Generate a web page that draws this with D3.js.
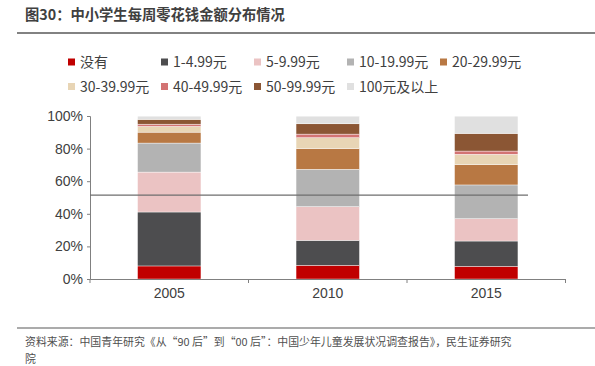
<!DOCTYPE html>
<html><head><meta charset="utf-8">
<script src="https://cdn.jsdelivr.net/npm/d3@7/dist/d3.min.js"></script>
<style>
html,body{margin:0;padding:0;background:#fff;}
svg{display:block;font-family:"Microsoft YaHei","Noto Sans CJK SC","Noto Sans",sans-serif;}
</style></head>
<body><svg id="c" width="595" height="366"></svg>
<script>
const years = ["2005", "2010", "2015"];
const seriesNames = ["没有", "1-4.99元", "5-9.99元", "10-19.99元", "20-29.99元", "30-39.99元", "40-49.99元", "50-99.99元", "100元及以上"];
const seriesColors = ["#C00000", "#4D4D4F", "#EBC3C3", "#B3B3B3", "#B87843", "#E8D5B5", "#D37373", "#8B5634", "#E0E0E0"];
// values in %, per series, for 2005, 2010, 2015
const v_none   = [8.0, 8.4, 7.8];
const v_1_5    = [33.1, 15.3, 15.5];
const v_5_10   = [24.5, 20.7, 13.7];
const v_10_20  = [17.8, 22.9, 20.7];
const v_20_30  = [6.7, 12.7, 12.5];
const v_30_40  = [3.5, 6.7, 6.3];
const v_40_50  = [1.4, 2.2, 2.0];
const v_50_100 = [2.9, 6.3, 10.8];
const v_100p   = [2.0, 4.7, 10.6];
const yTicks = [0, 20, 40, 60, 80, 100];
const refLineValue = 51.5;
const title = "图30：中小学生每周零花钱金额分布情况";
const sourceLines = ["资料来源：中国青年研究《从“90 后”到“00 后”：中国少年儿童发展状况调查报告》，民生证券研究", "院"];

const seriesVals = [v_none, v_1_5, v_5_10, v_10_20, v_20_30, v_30_40, v_40_50, v_50_100, v_100p];
const table = years.map((y, i) => {
  const o = {year: y};
  seriesNames.forEach((s, k) => o[s] = seriesVals[k][i]);
  return o;
});

const svg = d3.select("#c");
const textColor = "#404040";

// title
svg.append("text").attr("x", 25).attr("y", 20).attr("font-size", 14.3).attr("font-weight", "bold")
  .attr("fill", "#404040").text(title);
svg.append("line").attr("x1", 17).attr("x2", 595).attr("y1", 33).attr("y2", 33)
  .attr("stroke", "#595959").attr("stroke-width", 1.5);

// scales
const x = d3.scaleBand().domain(years).range([90, 565.5]).paddingInner(0.6).paddingOuter(0.3);
const y = d3.scaleLinear().domain([0, 100]).range([279, 116]);

const stack = d3.stack().keys(seriesNames);
const stacked = stack(table);

const g = svg.append("g");
stacked.forEach((layer, k) => {
  g.selectAll(null).data(layer).enter().append("rect")
    .attr("x", d => x(d.data.year))
    .attr("width", x.bandwidth())
    .attr("y", d => y(d[1]))
    .attr("height", d => y(d[0]) - y(d[1]))
    .attr("fill", seriesColors[k])
    .attr("stroke", "#ffffff").attr("stroke-width", 0.4);
});

// y axis
const yAxis = d3.axisLeft(y).tickValues(yTicks).tickFormat(d => d + "%").tickSize(3).tickPadding(4);
const ya = svg.append("g").attr("transform", "translate(90,0)").call(yAxis);
ya.selectAll("text").attr("font-size", 14).attr("fill", textColor).attr("font-family", null);
ya.select(".domain").attr("stroke", "#808080");
ya.selectAll(".tick line").attr("stroke", "#808080");

// x axis
const xAxis = d3.axisBottom(x).tickSize(0).tickPadding(9);
const xa = svg.append("g").attr("transform", "translate(0,279)").call(xAxis);
xa.select(".domain").attr("stroke", "#808080");
xa.selectAll("text").attr("font-size", 14).attr("fill", textColor).attr("font-family", null);
// boundary ticks
const bounds = [90, 90 + (565.5 - 90) / 3, 90 + 2 * (565.5 - 90) / 3, 565.5];
xa.selectAll(".btick").data(bounds).enter().append("line")
  .attr("x1", d => d).attr("x2", d => d).attr("y1", 0).attr("y2", 4).attr("stroke", "#808080");

// reference line
svg.append("line").attr("x1", 90).attr("x2", 528).attr("y1", y(refLineValue)).attr("y2", y(refLineValue))
  .attr("stroke", "#6e6e6e").attr("stroke-width", 1.2);

// legend
const legendPos = (i) => ({x: 68 + (i % 5) * 93, y: i < 5 ? 62 : 86.5});
const lg = svg.append("g");
seriesNames.forEach((s, i) => {
  const p = legendPos(i);
  lg.append("rect").attr("x", p.x).attr("y", p.y - 3.5).attr("width", 7).attr("height", 7).attr("fill", seriesColors[i]);
  lg.append("text").attr("x", p.x + 12).attr("y", p.y).attr("dy", "0.36em").attr("font-size", 14)
    .attr("fill", textColor).text(s);
});

// bottom rule and source
svg.append("line").attr("x1", 17).attr("x2", 595).attr("y1", 328).attr("y2", 328)
  .attr("stroke", "#595959").attr("stroke-width", 1.2);
sourceLines.forEach((t, i) => {
  svg.append("text").attr("x", 25).attr("y", 346 + i * 17).attr("font-size", 10.9).attr("fill", "#505050").text(t);
});
</script></body></html>
